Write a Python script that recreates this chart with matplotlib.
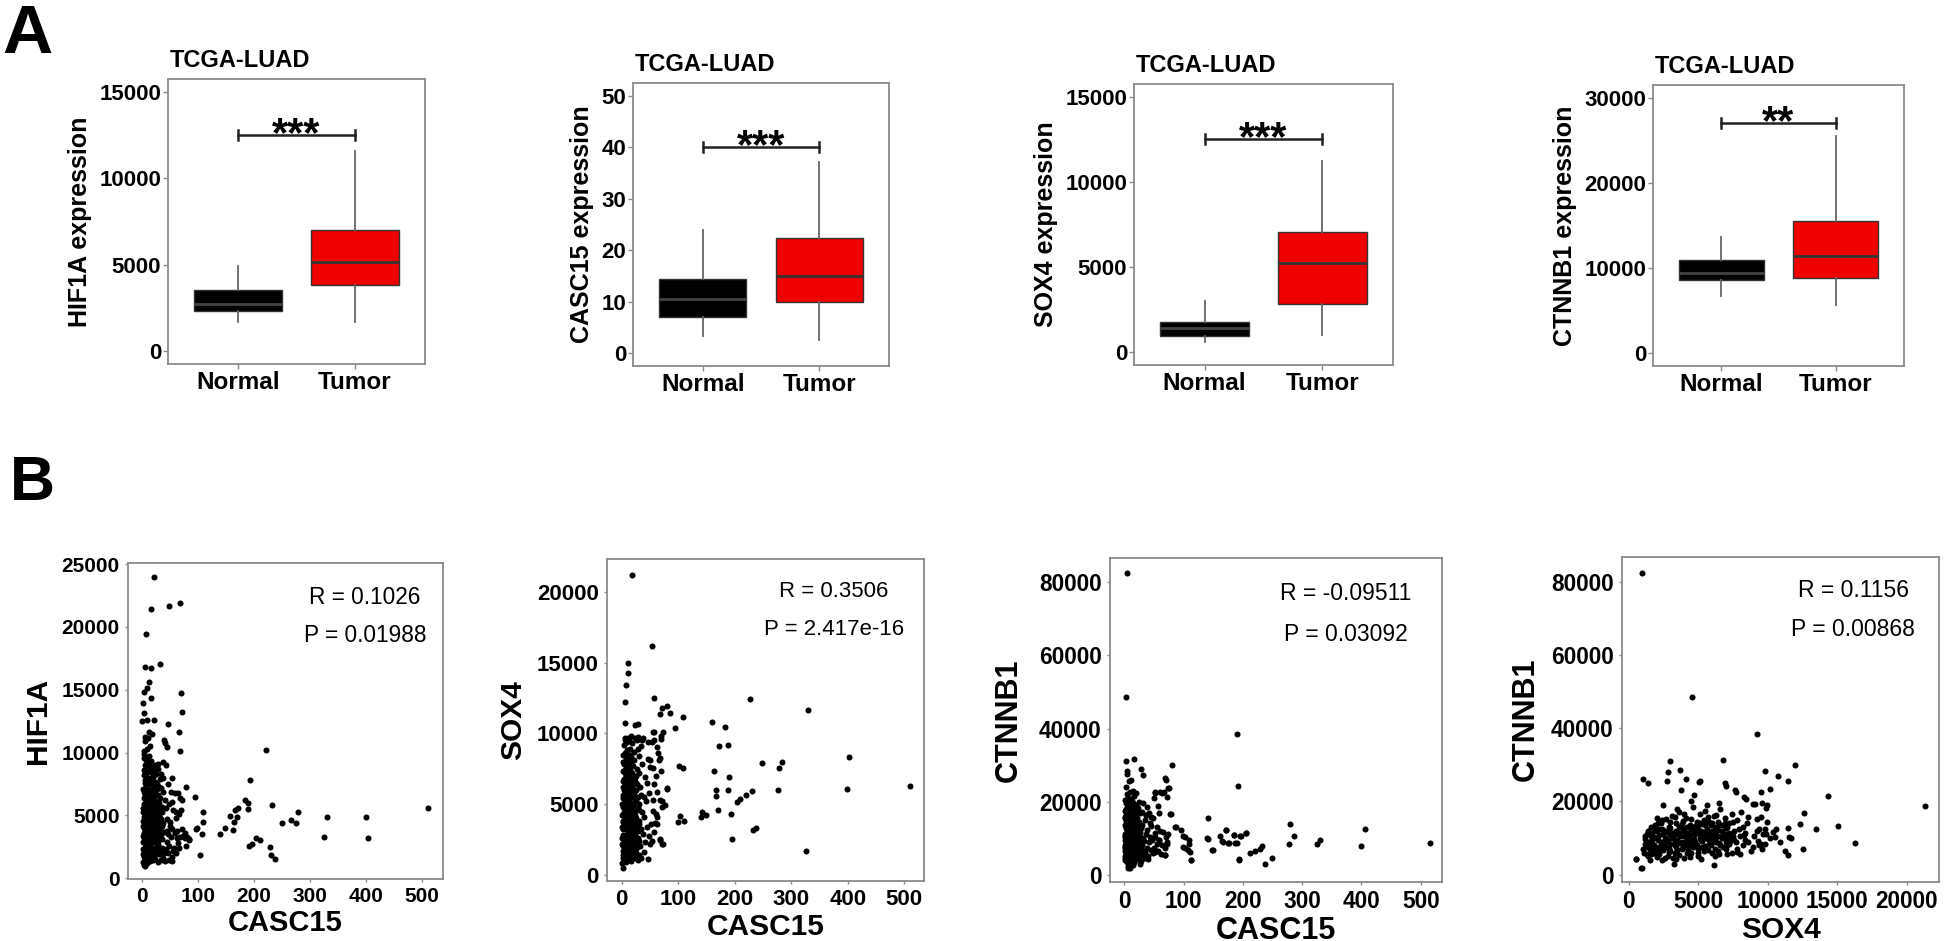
import matplotlib.pyplot as plt
import numpy as np

plt.rcParams['font.family'] = ['Liberation Sans', 'DejaVu Sans']

# ---- panel A: box plots (whislo, q1, median, q3, whishi) ----
groups = ['Normal', 'Tumor']
box_genes = ['HIF1A', 'CASC15', 'SOX4', 'CTNNB1']
hif1a_normal = [1680, 2317, 2722, 3533, 4923]
hif1a_tumor = [1680, 3822, 5137, 7008, 11583]
casc15_normal = [3.3, 7.1, 10.6, 14.5, 23.9]
casc15_tumor = [2.5, 10.0, 15.0, 22.4, 37.2]
sox4_normal = [587, 975, 1408, 1796, 3011]
sox4_tumor = [1015, 2817, 5258, 7042, 11227]
ctnnb1_normal = [6715, 8590, 9445, 10898, 13664]
ctnnb1_tumor = [5660, 8789, 11402, 15504, 25464]
sig_heights = [12510, 40.0, 12500, 27020]
sig_labels = ['***', '***', '***', '**']

# ---- panel B: scatter points ----
b1_points = [
    (20.7, 23990), (16.5, 21420), (47.4, 21680), (68.1, 21920), (7.6, 19430), (32.6, 17020),
    (5.9, 16780), (16.5, 16700), (11.8, 15640), (8.9, 15160), (3, 14790), (69.9, 14770),
    (16.5, 14320), (1.9, 13920), (71, 13250), (3, 13120), (0.3, 12540), (8.9, 12590),
    (20.7, 12590), (45.6, 12250), (65.1, 11610), (11.8, 11660), (5.9, 11270), (38.4, 11000),
    (41.4, 10790), (44.4, 10420), (68.1, 10100), (220.6, 10200), (3, 9545), (36.8, 9275),
    (192.7, 7820), (78.8, 7290), (53.4, 7954), (94.8, 6490), (51.6, 6900), (63.4, 6800),
    (68, 6400), (71, 6230), (183.8, 6230), (189.7, 6010), (231.3, 5830), (189.7, 5510),
    (171.9, 5570), (166, 5440), (108.5, 5250), (511, 5615), (278.6, 5250), (330.2, 4900),
    (399, 4900), (157, 4950), (168.8, 4900), (108.5, 4500), (164.7, 4500), (249, 4420),
    (266, 4630), (275, 4420), (148.2, 4030), (98.8, 3980), (96, 3900), (162.9, 3850),
    (107.3, 3520), (139.3, 3520), (324.9, 3310), (403.2, 3230), (203.4, 3180), (210.5, 3050),
    (77, 3180), (83, 3050), (195.7, 2760), (191.5, 2600), (228.2, 2510), (78.8, 2600),
    (229.4, 1850), (237, 1510), (103.7, 1880), (53.4, 1380),
    (1, 1300), (3, 1100), (6, 1000), (9, 1250), (12, 1500), (15, 1350), (19, 1450), (24, 1550),
    (28, 1300), (33, 1500), (4, 1700), (8, 1900), (13, 1800), (17, 2000), (21, 1750), (26, 2100),
    (31, 1950), (37, 1600), (2, 2300), (5, 2500), (10, 2200), (14, 2600), (18, 2350), (23, 2450),
    (29, 2700), (35, 2400), (42, 2300), (48, 2600), (55, 2200), (60, 2000), (1, 2900), (6, 3100),
    (9, 2800), (12, 3300), (16, 3000), (20, 3200), (25, 2900), (30, 3400), (36, 3100), (44, 2900),
    (52, 3300), (58, 3600), (63, 3200), (68, 3300), (74, 3400), (3, 3600), (7, 3800), (11, 3500),
    (15, 3700), (19, 3900), (22, 3600), (27, 3800), (33, 4100), (40, 3700), (46, 3500), (54, 3900),
    (2, 4200), (5, 4400), (8, 4100), (13, 4300), (17, 4500), (21, 4200), (24, 4600), (28, 4300),
    (32, 4800), (38, 4400), (45, 4700), (50, 4200), (4, 4900), (7, 5100), (10, 4800), (14, 5000),
    (18, 5300), (23, 5100), (27, 5400), (31, 5100), (36, 5300), (43, 5600), (56, 5400), (61, 5300),
    (1, 5600), (5, 5800), (9, 5500), (12, 5900), (16, 5700), (20, 6100), (25, 5800), (30, 6000),
    (35, 5700), (41, 6200), (48, 5900), (3, 6400), (6, 6600), (11, 6300), (15, 6700), (19, 6500),
    (24, 6800), (29, 6600), (38, 6900), (2, 7100), (8, 7300), (13, 7000), (17, 7400), (22, 7200),
    (27, 7500), (34, 7200), (5, 7800), (10, 8000), (14, 7700), (19, 8100), (25, 8300), (32, 7900),
    (4, 8600), (9, 8900), (13, 8500), (18, 8800), (23, 9000), (28, 8700), (7, 9400), (12, 9700),
    (16, 9300), (3, 9900), (9, 10300), (14, 10500), (6, 10900), (11, 11200), (17, 11500), (4, 10100),
    (8, 6200), (26, 4900), (22, 2900), (40, 2000), (47, 2000), (57, 2400), (64, 2800), (44, 3800),
    (50, 4500), (60, 4800), (66, 5100), (70, 5400), (53, 6100), (58, 6800), (47, 7500), (37, 8000),
    (29, 9100), (42, 9000), (33, 8300), (62, 3800), (71, 3900), (76, 3600), (80, 3300), (84, 3100),
    (66, 2400), (54, 1700), (48, 1500), (41, 1400),
    (2, 1900), (5, 2100), (7, 1600), (11, 2700), (13, 2100), (16, 2500), (20, 2300), (24, 2000),
    (27, 2500), (32, 2200), (1, 3400), (4, 3200), (8, 3300), (10, 3000), (14, 3400), (17, 3200),
    (21, 3000), (23, 3400), (26, 3200), (29, 3000), (34, 3500), (3, 4000), (6, 3700), (9, 3900),
    (12, 4000), (16, 4100), (18, 3800), (20, 4000), (25, 3700), (28, 4100), (31, 3900), (35, 4200),
    (1, 4600), (4, 4500), (6, 4700), (9, 4400), (11, 4700), (15, 4600), (19, 4800), (22, 4800),
    (26, 4500), (30, 4600), (34, 4700), (2, 5300), (5, 5000), (8, 5300), (11, 5100), (13, 5600),
    (17, 5000), (21, 5400), (24, 5300), (29, 5600), (33, 5500), (3, 5900), (7, 6100), (10, 5800),
    (14, 6200), (18, 6000), (22, 6300), (27, 6100), (32, 6400), (4, 6900), (9, 6700), (12, 6600),
    (16, 7000), (21, 6800), (26, 7100), (30, 7300), (6, 7600), (11, 7500), (15, 7900), (20, 7500),
    (24, 7700), (3, 8200), (8, 8300), (17, 8400), (22, 8500), (5, 9000), (10, 9200), (15, 8900),
]
b2_points = [
    (17.7, 21180), (53.7, 16210), (11.7, 15010), (10.6, 14300), (7.7, 13400), (5.3, 12200),
    (57.2, 12520), (227, 12430), (329.4, 11650), (70.8, 11800), (79.7, 11900), (68, 11400),
    (86, 11450), (108, 11180), (159.4, 10820), (183, 10470), (94.4, 10400), (188.8, 9170),
    (172.9, 9100), (23.6, 10600), (29.4, 10650), (402.6, 8340), (248, 7870), (284.5, 7960),
    (278.6, 7560), (102, 7700), (109, 7560), (163.5, 7350), (190.6, 6920), (510.6, 6290),
    (79.7, 6070), (167, 6000), (167, 5530), (189, 6000), (276.7, 5980), (230, 5930),
    (398.5, 6050), (219.6, 5620), (209.5, 5380), (203.7, 5160), (71, 5220), (77, 4900),
    (103, 4130), (99, 3690), (111, 3780), (141.7, 4400), (140, 4050), (149, 4200),
    (171, 4600), (193, 4320), (233, 3140), (238, 3280), (196, 2550), (326, 1650),
    (68, 2550), (73, 2200), (47, 1130), (2, 500), (56, 10110), (72.6, 10110), (58, 9520),
    (69, 9570), (29.4, 9720), (35.4, 9500), (50, 8110), (67.8, 8230), (54.9, 7520), (69, 7350),
    (79.7, 6100), (63, 5860), (67.8, 5270), (70.8, 4800), (63, 4090), (59, 3620), (67.8, 2430),
    (70.8, 2200), (50, 2200),
    (1, 800), (4, 1000), (8, 900), (12, 1100), (16, 950), (22, 1200), (28, 1050), (35, 1150),
    (2, 1400), (6, 1600), (10, 1350), (14, 1700), (19, 1500), (25, 1800), (31, 1400), (40, 1600),
    (3, 2000), (7, 2200), (11, 1900), (15, 2300), (20, 2100), (26, 2400), (33, 2000), (42, 2300),
    (1, 2600), (5, 2800), (9, 2500), (13, 2900), (18, 2700), (23, 3000), (29, 2600), (37, 2900),
    (48, 2700), (3, 3200), (7, 3400), (11, 3100), (16, 3500), (21, 3300), (27, 3600), (34, 3200),
    (45, 3400), (2, 3800), (6, 4000), (10, 3700), (14, 4100), (19, 3900), (24, 4200), (30, 3800),
    (39, 4100), (52, 3600), (4, 4400), (8, 4600), (12, 4300), (17, 4700), (22, 4500), (28, 4800),
    (36, 4400), (55, 4500), (60, 4300), (1, 5000), (5, 5200), (9, 4900), (13, 5300), (18, 5100),
    (23, 5400), (31, 5000), (43, 5200), (3, 5600), (7, 5800), (11, 5500), (15, 5900), (20, 5700),
    (26, 6000), (34, 5600), (48, 5800), (2, 6200), (6, 6400), (10, 6100), (14, 6500), (19, 6300),
    (24, 6600), (32, 6200), (44, 6500), (57, 6400), (4, 6800), (8, 7000), (12, 6700), (17, 7100),
    (23, 6900), (30, 7200), (41, 6900), (5, 7400), (9, 7600), (14, 7300), (20, 7700), (27, 7500),
    (36, 7800), (50, 7600), (3, 8000), (7, 8200), (11, 7900), (16, 8300), (22, 8100), (31, 8400),
    (46, 8200), (6, 8600), (10, 8800), (15, 8500), (21, 8700), (29, 8900), (4, 9200), (9, 9400),
    (13, 9600), (19, 9300), (27, 9500), (35, 9100), (6, 9700), (12, 9650), (16, 9800), (5, 10700),
    (24, 9700), (38, 9700), (54, 9400), (58, 10100), (62, 9000), (64, 8600), (47, 9400), (55, 5300),
    (60, 7000), (66, 8100), (70, 9800), (53, 2400), (58, 3000), (63, 3600), (25, 1500), (18, 3700),
    (30, 4600), (40, 5500),
    (2, 1200), (5, 1300), (9, 1150), (13, 1450), (17, 1300), (21, 1600), (26, 1350), (3, 1700),
    (8, 1800), (12, 1600), (16, 1900), (22, 1800), (28, 2000), (1, 2200), (4, 2400), (9, 2100),
    (13, 2500), (17, 2300), (21, 2600), (25, 2200), (30, 2400), (2, 2800), (7, 2700), (11, 2900),
    (15, 3000), (19, 2900), (24, 2800), (28, 3100), (1, 3400), (5, 3300), (9, 3500), (13, 3300),
    (18, 3400), (23, 3200), (26, 3400), (31, 3600), (3, 3700), (8, 3900), (12, 3800), (16, 3900),
    (21, 3700), (26, 4000), (1, 4200), (6, 4300), (10, 4200), (15, 4400), (20, 4300), (25, 4600),
    (3, 4800), (7, 4900), (11, 4700), (16, 5000), (20, 4900), (26, 5200), (2, 5400), (6, 5600),
    (10, 5400), (13, 5700), (17, 5500), (22, 5800), (28, 5500), (4, 6000), (8, 6300), (12, 6100),
    (16, 6200), (21, 6000), (27, 6400), (3, 6600), (7, 6700), (11, 6900), (15, 6800), (19, 6600),
    (25, 7000), (2, 7300), (6, 7200), (10, 7400), (13, 7500), (18, 7200), (4, 7800), (8, 7700),
    (12, 8100), (17, 7900), (3, 8500), (9, 8300), (14, 8900), (5, 9500),
]
b3_points = [
    (4.5, 82580), (2.8, 48720), (190.3, 38490), (191.4, 24230), (80.5, 29990), (16.9, 31550),
    (2.8, 31190), (28.7, 29040), (31.6, 27400), (68, 26400), (71, 26000), (74.9, 23590),
    (67, 22660), (52, 22660), (63, 22220), (140.7, 15360), (280.4, 13990), (405.4, 12620),
    (171.7, 12150), (205.6, 11410), (286, 10510), (331, 9600), (140.7, 9880), (78, 16540),
    (87.8, 13060), (95.7, 12150), (99.7, 10510), (108.7, 9400), (165.7, 9220), (177, 8670),
    (185, 10780), (196, 10510), (187, 8670), (515.8, 8670), (277.5, 8310), (325.4, 8310),
    (398.6, 7850), (149, 6860), (212.8, 5930), (221, 6480), (229.7, 7130), (232.6, 7760),
    (249.4, 4560), (237.8, 3020), (194.3, 4120), (113, 4120), (111, 6200), (108, 6850),
    (99, 7570), (69, 5300), (9, 1920), (5.6, 2280), (73.8, 23590), (72, 21290), (60.8, 22660),
    (51.2, 22390), (50, 20850), (57.4, 18740), (79.4, 16540), (58.1, 16730), (45.6, 15800),
    (37.2, 16270), (86, 13060), (103, 10320), (108.6, 8500), (101.9, 7300), (113, 4120),
    (69, 5300), (72, 8500), (58, 9410), (52.4, 6200), (35.5, 6200), (24.2, 5300), (13, 4390),
    (10, 2550), (6.2, 1920), (139.7, 10040), (148, 6860), (162.2, 10510), (166, 8940),
    (171.7, 12150), (175, 8670), (184.7, 10780), (190.3, 8670), (193, 4390), (197.6, 10510),
    (205.6, 11410),
    (1, 4000), (4, 3500), (8, 3200), (12, 3800), (17, 3400), (22, 4200), (28, 3700), (35, 4500),
    (2, 5000), (6, 5400), (10, 4800), (14, 5200), (19, 5700), (25, 5000), (31, 5500), (40, 5200),
    (3, 6200), (7, 6600), (11, 6000), (15, 6400), (20, 6800), (26, 6100), (33, 6500), (45, 6700),
    (1, 7200), (5, 7500), (9, 7000), (13, 7700), (18, 7300), (23, 7800), (29, 7100), (38, 7400),
    (50, 7200), (2, 8200), (6, 8500), (10, 8000), (14, 8700), (19, 8300), (24, 8600), (30, 8100),
    (41, 8800), (55, 8400), (3, 9200), (7, 9500), (11, 9000), (16, 9700), (21, 9300), (27, 9600),
    (34, 9100), (47, 9500), (1, 10200), (5, 10500), (9, 10000), (13, 10700), (18, 10300),
    (23, 10600), (31, 10100), (43, 10400), (2, 11200), (6, 11500), (10, 11000), (15, 11700),
    (20, 11300), (26, 11600), (36, 11100), (52, 11400), (4, 12300), (8, 12600), (12, 12100),
    (17, 12800), (22, 12400), (28, 12700), (39, 12200), (3, 13300), (7, 13600), (11, 13100),
    (16, 13800), (21, 13400), (30, 13700), (45, 13200), (5, 14400), (9, 14800), (14, 14300),
    (19, 14700), (25, 14500), (35, 14900), (2, 15500), (6, 15800), (10, 15300), (15, 16000),
    (22, 15600), (4, 16700), (8, 17100), (13, 16500), (18, 17300), (27, 16800), (3, 18000),
    (7, 18400), (11, 17800), (16, 18600), (24, 18200), (5, 19300), (9, 19800), (14, 19500),
    (20, 19100), (2, 20500), (6, 21000), (12, 20700), (17, 21500), (4, 22000), (10, 22600),
    (15, 23000), (3, 24000), (8, 25500), (5, 27500), (4, 28400), (12, 25800), (20, 22400),
    (25, 20000), (32, 19700), (38, 18500), (30, 17200), (42, 17000), (48, 15600), (36, 16200),
    (44, 14100), (55, 13000), (60, 12000), (52, 10200), (58, 9500), (63, 8200), (57, 6500),
    (48, 5800), (40, 4200), (26, 2900), (15, 2700), (62, 5600), (68, 7200), (72, 8800),
    (74, 11200), (66, 11600), (70, 10200),
    (2, 4500), (5, 4200), (9, 4600), (13, 4400), (18, 4800), (24, 4600), (3, 5600), (7, 5200),
    (11, 5500), (16, 5800), (21, 5300), (27, 5800), (1, 6500), (4, 6800), (8, 6300), (12, 6700),
    (17, 6200), (22, 6500), (28, 6900), (2, 7600), (6, 7300), (10, 7800), (14, 7400), (20, 7700),
    (25, 7300), (3, 8600), (7, 8200), (11, 8800), (16, 8400), (21, 8900), (27, 8400), (1, 9500),
    (5, 9200), (9, 9700), (13, 9300), (18, 9800), (24, 9400), (2, 10600), (7, 10300), (11, 10800),
    (15, 10200), (20, 10700), (27, 10400), (4, 11600), (8, 11200), (12, 11800), (17, 11400),
    (22, 11900), (3, 12800), (6, 12500), (10, 12900), (14, 12400), (19, 12700), (25, 12300),
    (1, 13700), (5, 13400), (9, 13900), (13, 13600), (18, 13300), (24, 13800), (3, 14700),
    (7, 14500), (11, 14900), (16, 14600), (21, 14200), (1, 15900), (5, 15400), (8, 15600),
    (12, 15900), (17, 15400), (3, 16300), (7, 16600), (10, 16900), (15, 17000), (20, 16800),
    (1, 17500), (6, 17700), (12, 18300), (9, 19000), (3, 19600), (13, 20200), (7, 20300),
]
b4_points = [
    (936, 82540), (4537, 48630), (9219, 38460), (2977, 31180), (6770, 31450), (11930, 29900),
    (1008, 26180), (1419, 25180), (2810, 27990), (2760, 25540), (3696, 28640), (4128, 26180),
    (3768, 23180), (4680, 21900), (5137, 25720), (5042, 25260), (6940, 25100), (6966, 24360),
    (7660, 23180), (7730, 22530), (8280, 21160), (8450, 20730), (8930, 19360), (9480, 22530),
    (9580, 19640), (9770, 28450), (10130, 23460), (10730, 26900), (11450, 25540), (14330, 21440),
    (21300, 18820), (15050, 13170), (16250, 8730), (13450, 12440), (12580, 16800), (12290, 13910),
    (11450, 12820), (11520, 10260), (11210, 6440), (11450, 5260), (12530, 6900), (11690, 10090),
    (10370, 11620), (10490, 10260), (10850, 8890), (10610, 12550), (9530, 15710), (9770, 12550),
    (9650, 10990), (10130, 9980), (9530, 8460), (8930, 7530), (526, 4360), (936, 1910),
    (6120, 2540), (3240, 3000), (1536, 3900), (8050, 17080), (8580, 15710), (9060, 19360),
    (9240, 15270), (9360, 12550), (9840, 11180), (9960, 14350), (9960, 18900), (9890, 18200),
    (1320, 5730), (910, 1910), (550, 4360),
    (1100, 6000), (1300, 7500), (1500, 9000), (1200, 10500), (1400, 12000), (1600, 5500),
    (1800, 8000), (2000, 10000), (1700, 11500), (1900, 13500), (2100, 6500), (2300, 9000),
    (2500, 11000), (2200, 12500), (2400, 15000), (2600, 7500), (2800, 5000), (3000, 8500),
    (2700, 10000), (2900, 13000), (3100, 16000), (3300, 6000), (3500, 9500), (3200, 11500),
    (3400, 14000), (3600, 17000), (3800, 7000), (4000, 4500), (3700, 10500), (3900, 12500),
    (4100, 15500), (4300, 8000), (4500, 6000), (4200, 11000), (4400, 13500), (4600, 18500),
    (4800, 9000), (5000, 5000), (4700, 12000), (4900, 14500), (5100, 16500), (5300, 7500),
    (5500, 10000), (5200, 12000), (5400, 15000), (5600, 19000), (5800, 8500), (6000, 6000),
    (5700, 11500), (5900, 13500), (6100, 16000), (6300, 9000), (6500, 5500), (6200, 12500),
    (6400, 14500), (6600, 18000), (6800, 7500), (7000, 10000), (6700, 12000), (6900, 15500),
    (7200, 8500), (7400, 6000), (7100, 13000), (7300, 11000), (7600, 9500), (7800, 7000),
    (7500, 14500), (8000, 10500), (8200, 8000), (7900, 12500), (8400, 11500), (8600, 9000),
    (8800, 6500), (8500, 14000), (9000, 10500), (9200, 12000), (9400, 8000), (9600, 7000),
    (1000, 7000), (1200, 8500), (1400, 5000), (1600, 13000), (1800, 6000), (2000, 15500),
    (2200, 7500), (2400, 4000), (2600, 12000), (2800, 9500), (3000, 11000), (3200, 4500),
    (3400, 7500), (3600, 13000), (3800, 9000), (4000, 10500), (4200, 6000), (4400, 9500),
    (4600, 7500), (4800, 11000), (5000, 13500), (5200, 9500), (5400, 6500), (5600, 11000),
    (5800, 14500), (6000, 9500), (6200, 7000), (6400, 10500), (6600, 8000), (6800, 13500),
    (7000, 7000), (7200, 11500), (7400, 16500), (7600, 12000), (7800, 15000), (8000, 5500),
    (8200, 13000), (8400, 9500), (2500, 19000), (3500, 18000), (4500, 20000), (5500, 17500),
    (6500, 19500), (3000, 14500), (4000, 16500), (5000, 11500), (6000, 12000), (7000, 9000),
    (2000, 4800), (3000, 6500), (4000, 8000), (5000, 7000), (6000, 10500), (1500, 7000),
    (2500, 8500), (3500, 11000), (4500, 12500), (5500, 13500), (1300, 11000), (1700, 9500),
    (2300, 14000), (3300, 9000), (4300, 11500), (5300, 10500), (6300, 13000), (7300, 9800),
    (8300, 10800), (9300, 9200), (9800, 8500),
    (1600, 8200), (1900, 7200), (2100, 9400), (2300, 8100), (2500, 6600), (2700, 8900),
    (2900, 7200), (3100, 9900), (3300, 8200), (3500, 6800), (3700, 8600), (3900, 7600),
    (4100, 9300), (4300, 10200), (4500, 8600), (4700, 9700), (4900, 8200), (5100, 10100),
    (5300, 9100), (5500, 7800), (5700, 9600), (5900, 8000), (6100, 11000), (6300, 10300),
    (6500, 8700), (6700, 9900), (6900, 11200), (7100, 8100), (7300, 9200), (7500, 10600),
    (7700, 8800), (1800, 10300), (2000, 11800), (2200, 10700), (2400, 12400), (2600, 10100),
    (2800, 11600), (3000, 12700), (3200, 10400), (3400, 12000), (3600, 11300), (3800, 13800),
    (4000, 11900), (4200, 13000), (4400, 10900), (4600, 12700), (4800, 13400), (5000, 12300),
    (5200, 13700), (5400, 11700), (5600, 12400), (5800, 10800), (6000, 14200), (6200, 11300),
    (6400, 12200), (6600, 13600), (6800, 11100), (7000, 12700), (7200, 14000), (7400, 10400),
    (2100, 14200), (2700, 15300), (3300, 15700), (3900, 14600), (4500, 15200), (5100, 14000),
    (5700, 15800), (6300, 16300), (6900, 14200), (2200, 5600), (2900, 6100), (3600, 5300),
    (4300, 6700), (5000, 5900), (5700, 6800), (6400, 6400), (7100, 5700), (7800, 6200),
    (1700, 6800), (2600, 4600), (3400, 4200), (4400, 4700), (5200, 4300), (6200, 5000),
    (1400, 8800), (1200, 9600), (1600, 10600), (1900, 12200),
]
scatter_xlabels = ['CASC15', 'CASC15', 'CASC15', 'SOX4']
scatter_ylabels = ['HIF1A', 'SOX4', 'CTNNB1', 'CTNNB1']
r_values = ['R = 0.1026', 'R = 0.3506', 'R = -0.09511', 'R = 0.1156']
p_values = ['P = 0.01988', 'P = 2.417e-16', 'P = 0.03092', 'P = 0.00868']

W, H = 1946, 941
fig = plt.figure(figsize=(W / 100, H / 100), dpi=100)
GRAY = '#8a8a8a'


def px_axes(l, t, r, b):
    return fig.add_axes([l / W, 1 - b / H, (r - l) / W, (b - t) / H])


def style(ax, tick_size, tick_len, pad):
    for s in ax.spines.values():
        s.set_color(GRAY)
        s.set_linewidth(1.3)
    ax.tick_params(colors=GRAY, labelcolor='black', length=tick_len, width=1,
                   labelsize=tick_size, pad=pad)
    for lab in ax.get_xticklabels() + ax.get_yticklabels():
        lab.set_fontweight('bold')


# ---------- A ----------
box_rects = [(168, 79, 425, 364), (633, 83, 889, 366), (1134, 84, 1393, 365), (1653, 85, 1904, 366)]
box_data = [(hif1a_normal, hif1a_tumor), (casc15_normal, casc15_tumor),
            (sox4_normal, sox4_tumor), (ctnnb1_normal, ctnnb1_tumor)]
box_ylims = [(-750, 15750), (-2.5, 52.5), (-750, 15750), (-1500, 31500)]
box_yticks = [np.arange(0, 15001, 5000), np.arange(0, 51, 10),
              np.arange(0, 15001, 5000), np.arange(0, 30001, 10000)]
box_colors = ['black', '#ee0000']
median_colors = ['#444444', '#333333']

for i in range(4):
    ax = px_axes(*box_rects[i])
    stats = []
    for g, vals in zip(groups, box_data[i]):
        lo, q1, med, q3, hi = vals
        stats.append(dict(label=g, whislo=lo, q1=q1, med=med, q3=q3, whishi=hi))
    bp = ax.bxp(stats, positions=[1, 2], widths=0.75, patch_artist=True,
                showfliers=False, showcaps=False,
                boxprops=dict(edgecolor='#333333', linewidth=1),
                whiskerprops=dict(color='#666666', linewidth=1.3),
                medianprops=dict(linewidth=2))
    for patch, c in zip(bp['boxes'], box_colors):
        patch.set_facecolor(c)
    for m, c in zip(bp['medians'], median_colors):
        m.set_color(c)
    ax.set_xlim(0.4, 2.6)
    ax.set_ylim(*box_ylims[i])
    ax.set_yticks(box_yticks[i])
    ax.set_xticks([1, 2], groups)
    style(ax, 16, 3.5, 1.5)
    for lab in ax.get_xticklabels():
        lab.set_fontsize(17.5)
    ax.set_ylabel(box_genes[i] + ' expression', fontsize=18, fontweight='bold', labelpad=5)
    ax.annotate('TCGA-LUAD', xy=(0, 1), xycoords='axes fraction', xytext=(1, 13),
                textcoords='offset points', ha='left', va='center',
                fontsize=17, fontweight='bold')
    # significance bracket
    h = sig_heights[i]
    cap = (box_ylims[i][1] - box_ylims[i][0]) * 0.018
    ax.plot([1, 2], [h, h], color='#222222', lw=1.8)
    ax.plot([1, 1], [h - cap, h + cap], color='#222222', lw=1.8)
    ax.plot([2, 2], [h - cap, h + cap], color='#222222', lw=1.8)
    ax.annotate(sig_labels[i], xy=(1.5, h), xytext=(0, -8), textcoords='offset points',
                ha='center', va='baseline', fontsize=30, fontweight='bold')

# ---------- B ----------
sc_rects = [(128, 563, 443, 879), (607, 559, 924, 881), (1110, 558, 1442, 882), (1622, 557, 1939, 882)]
sc_points = [b1_points, b2_points, b3_points, b4_points]
sc_xlims = [(-25, 537), (-26, 535), (-24, 536), (-483, 22320)]
sc_ylims = [(-50, 25080), (-454, 22340), (-2030, 86700), (-2030, 86870)]
sc_xticks = [np.arange(0, 501, 100)] * 3 + [np.arange(0, 20001, 5000)]
sc_yticks = [np.arange(0, 25001, 5000), np.arange(0, 20001, 5000),
             np.arange(0, 80001, 20000), np.arange(0, 80001, 20000)]
tick_sizes = [15, 16, 16.3, 16.3]
xlab_sizes = [21, 21.5, 22, 21.5]
ylab_sizes = [21.5, 21.5, 22, 22]
ylab_pads = [7, 7, 11, 7]
txt_sizes = [16.3, 16, 16.5, 16.5]
txt_pos = [(0.752, 0.892, 0.772), (0.716, 0.898, 0.78), (0.71, 0.889, 0.765), (0.729, 0.898, 0.778)]

for i in range(4):
    ax = px_axes(*sc_rects[i])
    pts = np.array(sc_points[i], dtype=float)
    ax.scatter(pts[:, 0], pts[:, 1], s=19, c='black', linewidths=0)
    ax.set_xlim(*sc_xlims[i])
    ax.set_ylim(*sc_ylims[i])
    ax.set_xticks(sc_xticks[i])
    ax.set_yticks(sc_yticks[i])
    style(ax, tick_sizes[i], 2.5, 3.5)
    ax.set_xlabel(scatter_xlabels[i], fontsize=xlab_sizes[i], fontweight='bold', labelpad=2)
    ax.set_ylabel(scatter_ylabels[i], fontsize=ylab_sizes[i], fontweight='bold',
                  labelpad=ylab_pads[i])
    tx, ry, py = txt_pos[i]
    ax.text(tx, ry, r_values[i], transform=ax.transAxes, ha='center', va='center',
            fontsize=txt_sizes[i])
    ax.text(tx, py, p_values[i], transform=ax.transAxes, ha='center', va='center',
            fontsize=txt_sizes[i])

fig.text(2 / W, 1 - 53 / H, 'A', fontsize=50, fontweight='bold', ha='left', va='baseline')
fig.text(10 / W, 1 - 500 / H, 'B', fontsize=45, fontweight='bold', ha='left', va='baseline')

fig.savefig('out.png', dpi=100, facecolor='white')
